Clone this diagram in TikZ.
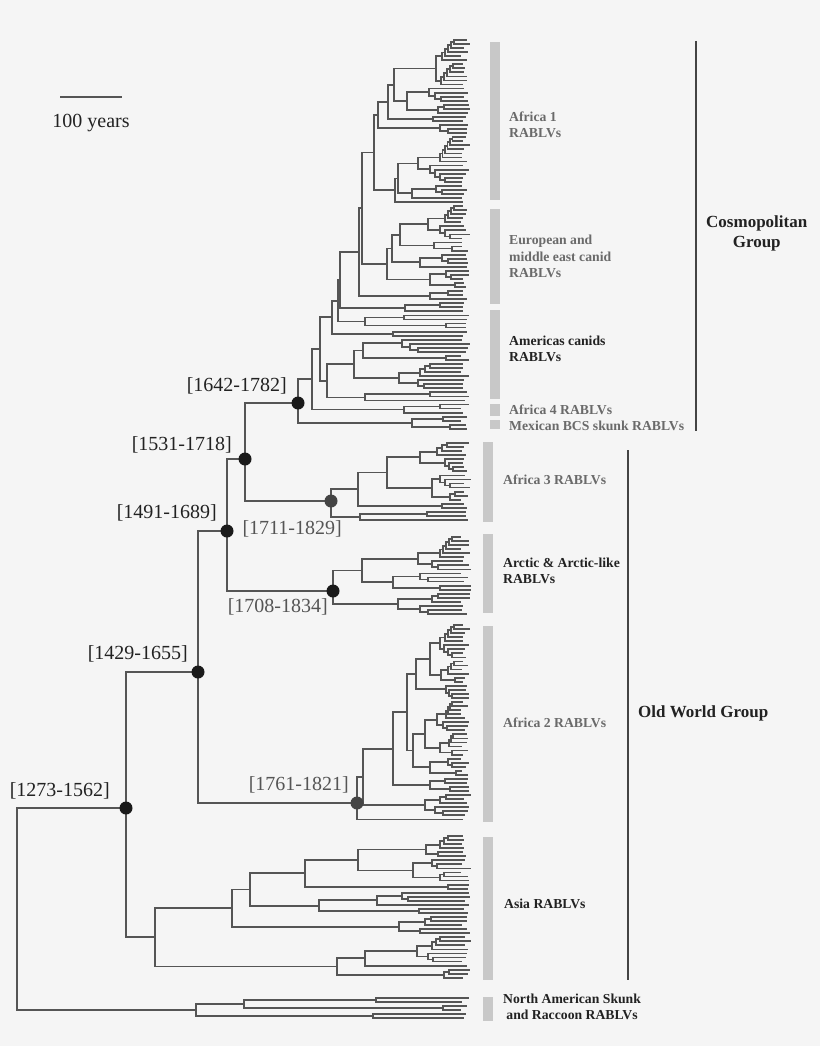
\documentclass[tikz,border=0pt]{standalone}
\usepackage{fontspec}
\setmainfont{Liberation Serif}
\usepackage{xcolor}
\usepackage{tikz}
\usetikzlibrary{positioning}

\definecolor{bgcol}{HTML}{F5F5F5}
\definecolor{treegray}{HTML}{555555}
\definecolor{barfill}{HTML}{C8C8C8}
\definecolor{darktext}{HTML}{222222}
\definecolor{lighttext}{HTML}{6A6A6A}
\definecolor{dategray}{HTML}{555555}
\definecolor{nodeblack}{HTML}{1A1A1A}
\definecolor{nodegray}{HTML}{444444}

% tree helpers: tips are laid out top to bottom, a clade sits halfway between its two children
\def\px{17}\def\tipy{40}\def\lasty{0}\def\lastx{0}
\newcommand\settip[1]{\xdef\tipy{#1}}
\newcommand\tip{%
  \pgfmathsetmacro\tipx{460+10*rnd}%
  \draw[branch] (\px,\tipy) -- (\tipx,\tipy);%
  \xdef\lasty{\tipy}%
  \pgfmathsetmacro\tipnext{\tipy+4.05}\xdef\tipy{\tipnext}}
\newcommand\clade[4][]{%
  \begingroup
    \pgfmathsetmacro\clx{#2}%
    \let\px\clx
    #3\let\clya\lasty
    #4\let\clyb\lasty
    \pgfmathsetmacro\cly{(\clya+\clyb)/2}%
    \draw[branch] (\clx,\clya) -- (\clx,\clyb);%
    \ifx\relax#1\relax\else\coordinate (#1) at (\clx,\cly);\fi
    \xdef\lasty{\cly}\xdef\lastx{\clx}%
  \endgroup
  \draw[branch] (\px,\lasty) -- (\lastx,\lasty);}
% same, but the clade is put at a given height
\newcommand\cladeat[5][]{%
  \begingroup
    \pgfmathsetmacro\clx{#2}%
    \let\px\clx
    #4\let\clya\lasty
    #5\let\clyb\lasty
    \pgfmathsetmacro\cly{#3}%
    \draw[branch] (\clx,\clya) -- (\clx,\clyb);%
    \ifx\relax#1\relax\else\coordinate (#1) at (\clx,\cly);\fi
    \xdef\lasty{\cly}\xdef\lastx{\clx}%
  \endgroup
  \draw[branch] (\px,\lasty) -- (\lastx,\lasty);}
\newcommand\pair[1]{\clade{#1}{\tip}{\tip}}
\newcommand\stairdn[3]{\ifnum\numexpr#2\relax<3 \pair{#1}\else\clade{#1}{\tip}{\stairdn{#1+#3}{#2-1}{#3}}\fi}
\newcommand\stairup[3]{\ifnum\numexpr#2\relax<3 \pair{#1}\else\clade{#1}{\stairup{#1+#3}{#2-1}{#3}}{\tip}\fi}

\tikzset{
  branch/.style={draw=treegray, line width=1.8pt, line cap=rect},
  agefull/.style={fill=nodeblack},
  agegray/.style={fill=nodegray},
  datelbl/.style={font=\fontsize{20}{22}\selectfont, inner sep=0pt, anchor=east},
  bar/.style={fill=barfill, minimum width=10pt, inner sep=0pt, outer sep=0pt},
  cladelbl/.style={font=\bfseries\fontsize{13.7}{16.3}\selectfont, inner sep=0pt, align=left},
  grouplbl/.style={font=\bfseries\fontsize{17}{20}\selectfont, text=darktext, inner sep=0pt},
  groupline/.style={draw=nodegray, line width=2.4pt},
  scaleline/.style={draw=treegray, line width=1.8pt}
}

\begin{document}
\begin{tikzpicture}[x=1pt, y=-1pt]
% Background
\fill[bgcol] (0,0) rectangle (820,1046);
\useasboundingbox (0,0) rectangle (820,1046);

% Scale bar
\coordinate (scaleL) at (60,97);
\coordinate (scaleR) at (122,97);
\draw[scaleline] (scaleL) -- (scaleR) node[midway, yshift=-26pt, inner sep=0pt, font=\fontsize{20}{22}\selectfont, text=darktext] {100 years};

% Tree
\pgfmathsetseed{11}
\clade{17}{
  \cladeat[n1273]{126}{808}{
    \cladeat[n1429]{198}{672}{
      \cladeat[n1491]{227}{531}{
        \cladeat[n1531]{245}{459}{
          % Cosmopolitan group
          \settip{40}
          \cladeat[n1642]{298}{403}{
            \clade{312}{
              \clade{320}{
                \clade{332}{
                  \clade{338}{
                    \clade{340}{
                      \clade{359}{
                        \clade{362}{
                          % Africa 1
                          \clade{374}{
                            \clade{378}{
                              \clade{388}{
                                \clade{394}{
                                  \clade{436}{\stairup{442}{6}{3}}{\stairup{441}{6}{3}}
                                }{
                                  \clade{407}{\stairdn{429}{4}{6}}{\stairup{438}{3}{6}}
                                }
                              }{\pair{433}}
                            }{\stairdn{440}{3}{8}}
                          }{
                            \clade{395}{
                              \clade{398}{
                                \clade{418}{\stairup{440}{7}{2.5}}{\stairdn{430}{5}{5}}
                              }{
                                \clade{412}{\stairdn{436}{3}{6}}{\tip}
                              }
                            }{\tip}
                          }
                        }{
                          % European and middle east canid
                          \clade{387}{
                            \clade{392}{
                              \clade{400}{
                                \clade{428}{\stairup{445}{5}{3}}{\stairdn{440}{4}{5}}
                              }{
                                \clade{434}{\tip}{\pair{452}}
                              }
                            }{
                              \clade{420}{\stairdn{442}{3}{6}}{\tip}
                            }
                          }{
                            \clade{430}{\stairdn{446}{3}{5}}{\pair{455}}
                          }
                        }
                      }{\clade{430}{\pair{448}}{\tip}}
                    }{\clade{405}{\pair{440}}{\tip}}
                  }{\clade{365}{\pair{404}}{\pair{446}}}
                }{\pair{393}}
              }{
                % Americas canids
                \clade{327}{
                  \clade{354}{
                    \clade{363}{\stairdn{402}{4}{8}}{\pair{446}}
                  }{
                    \clade{399}{\stairup{420}{4}{5}}{\stairdn{418}{3}{6}}
                  }
                }{
                  \clade{365}{\pair{430}}{\tip}
                }
              }
            }{
              % Africa 4
              \clade{404}{\pair{440}}{\tip}
            }
          }{
            % Mexican BCS skunk
            \clade{412}{\pair{443}}{\pair{450}}
          }
        }{
          % Africa 3
          \settip{443}
          \cladeat[n1711]{331}{501}{
            \clade{358}{
              \clade{387}{
                \clade{420}{\stairup{437}{4}{5}}{\stairdn{445}{4}{4}}
              }{
                \clade{432}{\stairdn{440}{4}{5}}{\stairup{450}{3}{5}}
              }
            }{\pair{442}}
          }{
            \clade{360}{\pair{427}}{\tip}
          }
        }
      }{
        % Arctic and Arctic-like
        \settip{537}
        \cladeat[n1708]{333}{591}{
          \clade{362}{
            \clade{418}{\stairup{440}{6}{3}}{\stairdn{432}{3}{6}}
          }{
            \clade{393}{\stairdn{420}{3}{8}}{\pair{440}}
          }
        }{
          \clade{398}{\stairup{432}{3}{6}}{\stairdn{420}{3}{8}}
        }
      }
    }{
      % Africa 2
      \settip{625}
      \cladeat[n1761]{357}{803}{
        \clade{363}{
          \clade{393}{
            \clade{407}{
              \clade{416}{
                \clade{430}{
                  \clade{440}{\stairup{445}{5}{3}}{\stairdn{444}{4}{4}}
                }{
                  \clade{441}{\stairup{448}{4}{3}}{\pair{455}}
                }
              }{\stairdn{446}{4}{3}}
            }{
              \clade{413}{
                \clade{425}{
                  \clade{437}{\stairup{446}{5}{2}}{\stairdn{443}{3}{4}}
                }{
                  \clade{440}{\stairup{449}{4}{2}}{\pair{452}}
                }
              }{
                \clade{430}{\stairdn{448}{3}{4}}{\pair{456}}
              }
            }
          }{
            \clade{430}{\pair{445}}{\pair{450}}
          }
        }{
          \clade{425}{\stairup{440}{3}{6}}{\stairdn{435}{3}{8}}
        }
      }{\tip}
    }
  }{
    % Asia
    \settip{836}
    \clade{155}{
      \clade{232}{
        \clade{250}{
          \clade{305}{
            \clade{358}{
              \clade{426}{\stairup{440}{4}{4}}{\pair{438}}
            }{
              \clade{413}{\stairdn{432}{3}{5}}{\stairup{440}{3}{4}}
            }
          }{\pair{448}}
        }{
          \clade{319}{
            \clade{377}{\stairdn{402}{3}{6}}{\tip}
          }{\pair{419}}
        }
      }{
        \clade{399}{\stairup{425}{3}{6}}{\pair{420}}
      }
    }{
      \clade{337}{
        \clade{365}{
          \clade{417}{\stairup{432}{4}{4}}{\stairdn{428}{3}{5}}
        }{\tip}
      }{\stairup{444}{3}{5}}
    }
  }
}{
  % North American skunk and raccoon
  \settip{998}
  \clade{196}{
    \clade{244}{\pair{376}}{\pair{443}}
  }{\pair{373}}
}

% Dated nodes
\fill[agefull] (n1642) circle (6.5pt);
\fill[agefull] (n1531) circle (6.5pt);
\fill[agefull] (n1491) circle (6.5pt);
\fill[agefull] (n1429) circle (6.5pt);
\fill[agefull] (n1273) circle (6.5pt);
\fill[agefull] (n1708) circle (6.5pt);
\fill[agegray] (n1711) circle (6.5pt);
\fill[agegray] (n1761) circle (6.5pt);

\node[datelbl, text=darktext] at ([shift={(-11,-17)}]n1642) {[1642-1782]};
\node[datelbl, text=darktext] at ([shift={(-13,-14)}]n1531) {[1531-1718]};
\node[datelbl, text=darktext] at ([shift={(-10,-18)}]n1491) {[1491-1689]};
\node[datelbl, text=darktext] at ([shift={(-10,-18)}]n1429) {[1429-1655]};
\node[datelbl, text=darktext] at ([shift={(-16,-17)}]n1273) {[1273-1562]};
\node[datelbl, text=dategray] at ([shift={(11,28)}]n1711) {[1711-1829]};
\node[datelbl, text=dategray] at ([shift={(-5,16)}]n1708) {[1708-1834]};
\node[datelbl, text=dategray] at ([shift={(-8,-18)}]n1761) {[1761-1821]};

% Clade bars
\node[bar, minimum height=158pt] (barafrone) at (495,121) {};
\node[bar, minimum height=95pt] (bareuro) at (495,256.5) {};
\node[bar, minimum height=89pt] (baramer) at (495,354.5) {};
\node[bar, minimum height=12pt] (barafrfour) at (495,410) {};
\node[bar, minimum height=9pt] (barmex) at (495,424.5) {};
\node[bar, minimum height=80pt] (barafrthree) at (488,482) {};
\node[bar, minimum height=79pt] (bararctic) at (488,573.5) {};
\node[bar, minimum height=196pt] (barafrtwo) at (488,724) {};
\node[bar, minimum height=143pt] (barasia) at (488,908.5) {};
\node[bar, minimum height=24pt] (barskunk) at (488,1009) {};

% Clade labels
\node[cladelbl, text=lighttext, right=9pt of barafrone, yshift=-4pt] (lblafrone) {Africa 1\\RABLVs};
\node[cladelbl, text=lighttext, right=9pt of bareuro] (lbleuro) {European and\\middle east canid\\RABLVs};
\node[cladelbl, text=darktext, right=9pt of baramer, yshift=6pt] (lblamer) {Americas canids\\RABLVs};
\node[cladelbl, text=lighttext, right=9pt of barafrfour] (lblafrfour) {Africa 4 RABLVs};
\node[cladelbl, text=lighttext, right=9pt of barmex, yshift=-1.5pt] (lblmex) {Mexican BCS skunk RABLVs};
\node[cladelbl, text=lighttext, right=10pt of barafrthree, yshift=2pt] (lblafrthree) {Africa 3 RABLVs};
\node[cladelbl, text=darktext, right=10pt of bararctic, yshift=3pt] (lblarctic) {Arctic \& Arctic-like\\RABLVs};
\node[cladelbl, text=lighttext, right=10pt of barafrtwo, yshift=1pt] (lblafrtwo) {Africa 2 RABLVs};
\node[cladelbl, text=darktext, right=11pt of barasia, yshift=4.5pt] (lblasia) {Asia RABLVs};
\node[cladelbl, text=darktext, align=center, right=10pt of barskunk, yshift=2pt] (lblskunk) {North American Skunk\\and Raccoon RABLVs};

% Groups
\coordinate (cosmotop) at (696,41);
\coordinate (cosmobot) at (696,431);
\draw[groupline] (cosmotop) -- (cosmobot) coordinate[pos=0.5] (cosmomid);
\node[grouplbl, align=center, right=10pt of cosmomid, yshift=3pt] (lblcosmo) {Cosmopolitan\\Group};

\coordinate (oldtop) at (628,450);
\coordinate (oldbot) at (628,980);
\draw[groupline] (oldtop) -- (oldbot) coordinate[pos=0.5] (oldmid);
\node[grouplbl, right=10pt of oldmid, yshift=2pt] (lblold) {Old World Group};

\end{tikzpicture}
\end{document}
